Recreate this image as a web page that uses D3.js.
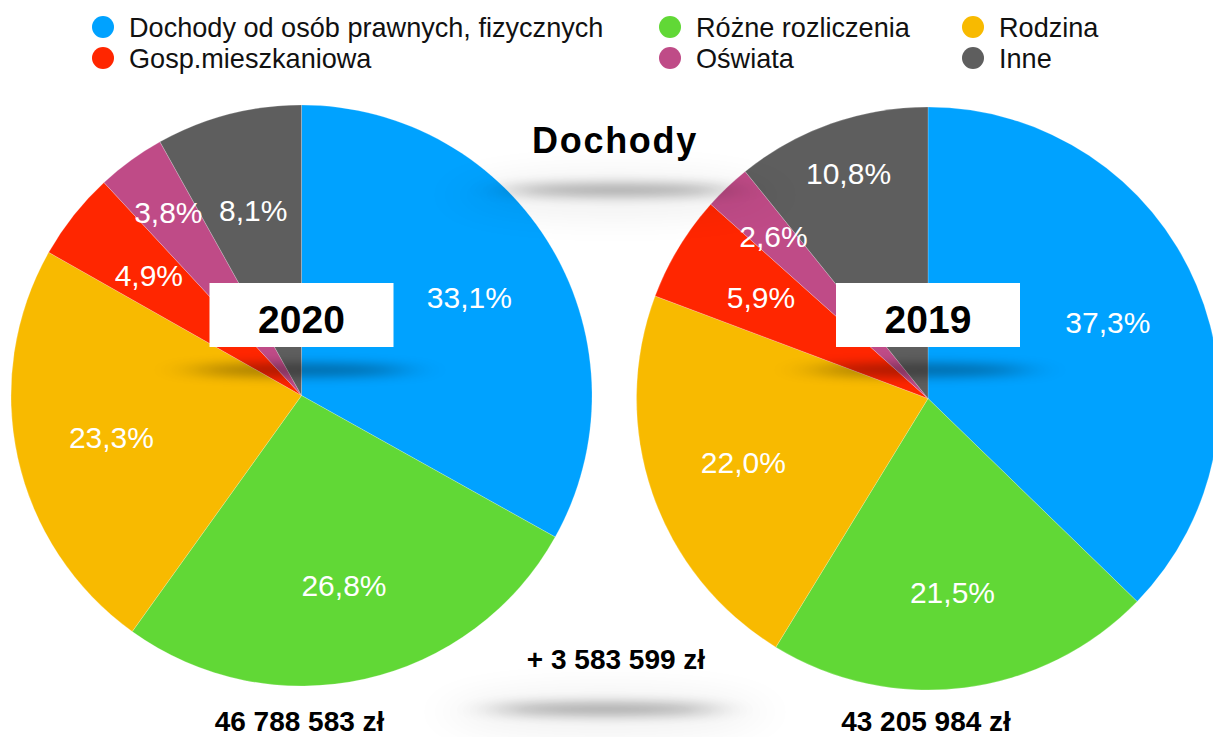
<!DOCTYPE html>
<html>
<head>
<meta charset="utf-8">
<script src="https://cdn.jsdelivr.net/npm/d3@7"></script>
<style>
  body { margin: 0; background: #fff; }
  svg { display: block; font-family: "Liberation Sans", Arial, Helvetica, sans-serif; }
</style>
</head>
<body>
<div id="chart"></div>
<script>
// categories and values
var categories = ["Dochody od osób prawnych, fizycznych", "Różne rozliczenia", "Rodzina", "Gosp.mieszkaniowa", "Oświata", "Inne"];
var colors = ["#00a2ff", "#61d836", "#f8ba00", "#ff2600", "#bf4b87", "#5e5e5e"];
var values2020 = [33.1, 26.8, 23.3, 4.9, 3.8, 8.1];
var values2019 = [37.3, 21.5, 22.0, 5.9, 2.6, 10.8];
var years = ["2020", "2019"];
var totals = ["46 788 583 zł", "43 205 984 zł"];
var diffText = "+ 3 583 599 zł";
var title = "Dochody";

var W = 1213, H = 737;
var svg = d3.select("#chart").append("svg")
    .attr("width", W)
    .attr("height", H);

var defs = svg.append("defs");
defs.append("filter").attr("id", "blur")
    .attr("x", "-50%").attr("y", "-300%").attr("width", "200%").attr("height", "700%")
  .append("feGaussianBlur").attr("stdDeviation", "22 6");
defs.append("filter").attr("id", "blurWide")
    .attr("x", "-50%").attr("y", "-200%").attr("width", "200%").attr("height", "500%")
  .append("feGaussianBlur").attr("stdDeviation", "24 16");

// legend: 3 columns x 2 rows
var legCols = [103, 670, 973], legRows = [27, 58];
var legend = svg.append("g");
categories.forEach(function(c, i){
  var col = i % 3, row = Math.floor(i / 3);
  // picture order: row0 = blue, green, yellow ; row1 = red, pink, gray
  var g = legend.append("g").attr("transform", "translate(" + legCols[col] + "," + legRows[row] + ")");
  g.append("circle").attr("r", 11).attr("fill", colors[i]);
  g.append("text").attr("x", 26).attr("dy", "0.35em")
    .style("font-size", "27.1px").attr("fill", "#111").text(c);
});

var pies = [
  {values: values2020, cx: 301.5, cy: 395.5, r: 290.5, labelR: [0.67, 0.67, 0.67, 0.67, 0.78, 0.66]},
  {values: values2019, cx: 928, cy: 398.5, r: 291.5, labelR: [0.67, 0.67, 0.67, 0.67, 0.77, 0.82]}
];

var pie = d3.pie().sort(null).value(function(d){ return d; });

pies.forEach(function(p, k){
  var arc = d3.arc().innerRadius(0).outerRadius(p.r);
  var g = svg.append("g").attr("transform", "translate(" + p.cx + "," + p.cy + ")");
  var arcs = pie(p.values);
  g.selectAll("path").data(arcs).enter().append("path")
    .attr("d", arc)
    .attr("fill", function(d, i){ return colors[i]; })
    .attr("stroke", "rgba(255,255,255,0.35)")
    .attr("stroke-width", 0.6);
  g.selectAll("text").data(arcs).enter().append("text")
    .attr("transform", function(d, i){
      var a = (d.startAngle + d.endAngle) / 2, rr = p.r * p.labelR[i];
      return "translate(" + (Math.sin(a) * rr) + "," + (-Math.cos(a) * rr) + ")";
    })
    .attr("text-anchor", "middle").attr("dy", "0.36em")
    .style("font-size", "30px").attr("fill", "#fff")
    .text(function(d){ return d3.format(".1f")(d.data).replace(".", ",") + "%"; });
});

// shadows
var shadows = [
  {x: 618, y: 190, rx: 115, ry: 6, o: 0.32},
  {x: 605, y: 709, rx: 115, ry: 6, o: 0.32},
  {x: 300, y: 370, rx: 110, ry: 6, o: 0.38},
  {x: 920, y: 370, rx: 110, ry: 6, o: 0.38}
];
svg.append("ellipse").attr("cx", 615).attr("cy", 195).attr("rx", 160).attr("ry", 24)
  .attr("fill", "#000").attr("opacity", 0.05).attr("filter", "url(#blurWide)");
svg.append("ellipse").attr("cx", 605).attr("cy", 712).attr("rx", 160).attr("ry", 24)
  .attr("fill", "#000").attr("opacity", 0.05).attr("filter", "url(#blurWide)");
svg.selectAll("ellipse.sh").data(shadows).enter().append("ellipse")
  .attr("class", "sh")
  .attr("cx", function(d){ return d.x; }).attr("cy", function(d){ return d.y; })
  .attr("rx", function(d){ return d.rx; }).attr("ry", function(d){ return d.ry; })
  .attr("fill", "#000").attr("opacity", function(d){ return d.o; })
  .attr("filter", "url(#blur)");

// year boxes and totals
pies.forEach(function(p, k){
  svg.append("rect")
    .attr("x", p.cx - 92).attr("y", 283).attr("width", 184).attr("height", 64)
    .attr("fill", "#fff");
  svg.append("text")
    .attr("x", p.cx).attr("y", 333).attr("text-anchor", "middle")
    .style("font-size", "39px").style("font-weight", "bold").attr("fill", "#000")
    .text(years[k]);
  svg.append("text")
    .attr("x", p.cx - 2).attr("y", 731).attr("text-anchor", "middle")
    .style("font-family", "'Liberation Sans Narrow', 'Liberation Sans', Arial, sans-serif")
    .style("font-size", "28px").style("font-weight", "bold").attr("fill", "#000")
    .text(totals[k]);
});

svg.append("text")
  .attr("x", 615).attr("y", 153).attr("text-anchor", "middle")
  .style("font-size", "36px").style("font-weight", "bold").style("letter-spacing", "1.7px")
  .attr("fill", "#000").text(title);

svg.append("text")
  .attr("x", 616).attr("y", 669).attr("text-anchor", "middle")
  .style("font-family", "'Liberation Sans Narrow', 'Liberation Sans', Arial, sans-serif")
  .style("font-size", "28px").style("font-weight", "bold").attr("fill", "#000")
  .text(diffText);
</script>
</body>
</html>
